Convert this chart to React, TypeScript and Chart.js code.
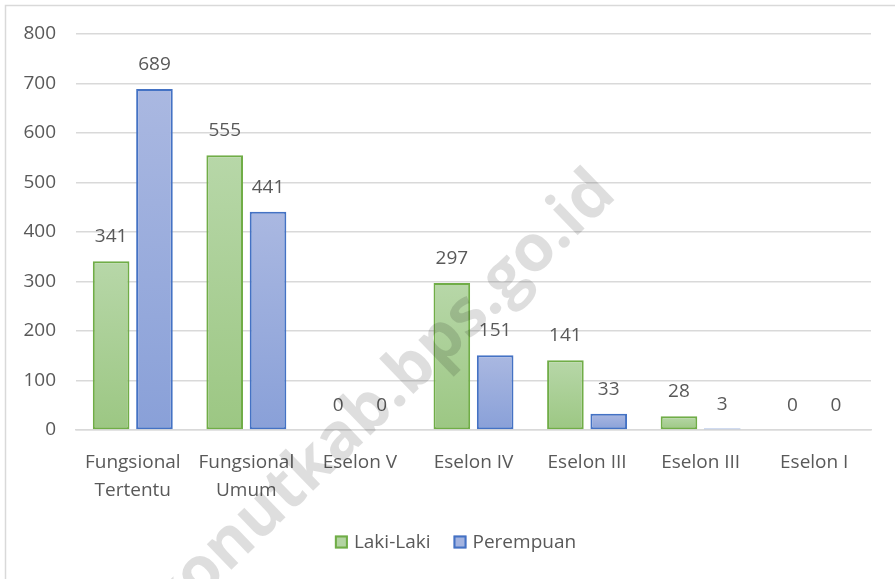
import React, { useEffect, useRef } from 'react';
import { Chart, registerables } from 'chart.js';

Chart.register(...registerables);

const categories: (string | string[])[] = [
  ['Fungsional', 'Tertentu'],
  ['Fungsional', 'Umum'],
  'Eselon V',
  'Eselon IV',
  'Eselon III',
  'Eselon III',
  'Eselon I',
];
const lakiLaki = [341, 555, 0, 297, 141, 28, 0];
const perempuan = [689, 441, 0, 151, 33, 3, 0];
const seriesNames = ['Laki-Laki', 'Perempuan'];
const legendFills = ['#b3d4a2', '#a3b3e0'];
const legendStrokes = ['#70ad47', '#4472c4'];
const yMax = 800;
const yStep = 100;
const watermark = 'konutkab.bps.go.id';

const FONT = '"Open Sans", "DejaVu Sans", sans-serif';
const TEXT = '#595959';

const gradientFill = (top: string, bottom: string) => (ctx: any) => {
  const chart = ctx.chart;
  const y = chart.scales && chart.scales.y;
  if (!y || ctx.type !== 'data') return top;
  const yTop = y.getPixelForValue(ctx.raw);
  const yBase = y.getPixelForValue(0);
  if (!isFinite(yTop) || !isFinite(yBase) || yBase - yTop < 1) return top;
  const g = chart.ctx.createLinearGradient(0, yTop, 0, yBase);
  g.addColorStop(0, top);
  g.addColorStop(1, bottom);
  return g;
};

const frameLegendWatermark = {
  id: 'frameLegendWatermark',
  beforeDraw(chart: any) {
    const c = chart.ctx;
    c.save();
    c.fillStyle = '#ffffff';
    c.fillRect(0, 0, chart.width, chart.height);
    c.strokeStyle = '#d9d9d9';
    c.lineWidth = 1.5;
    c.beginPath();
    c.moveTo(5.5, chart.height);
    c.lineTo(5.5, 5.5);
    c.lineTo(chart.width, 5.5);
    c.stroke();
    c.restore();
  },
  afterDraw(chart: any) {
    const c = chart.ctx;
    // legend
    c.save();
    c.font = `19px ${FONT}`;
    c.textBaseline = 'middle';
    c.textAlign = 'left';
    const box = 13;
    const gapText = 6;
    const gapItem = 23;
    const widths = seriesNames.map((s) => c.measureText(s).width);
    const total = widths.reduce((a, w) => a + box + gapText + w, 0) + gapItem * (seriesNames.length - 1);
    let x = 455.5 - total / 2;
    const cy = 542;
    seriesNames.forEach((s, i) => {
      c.fillStyle = legendFills[i];
      c.fillRect(x, cy - box / 2, box, box);
      c.strokeStyle = legendStrokes[i];
      c.lineWidth = 2;
      c.strokeRect(x + 1, cy - box / 2 + 1, box - 2, box - 2);
      c.fillStyle = TEXT;
      c.fillText(s, x + box + gapText, cy + 1);
      x += box + gapText + widths[i] + gapItem;
    });
    c.restore();
    // watermark
    c.save();
    c.font = `bold 65px ${FONT}`;
    c.fillStyle = 'rgba(0,0,0,0.13)';
    c.textBaseline = 'alphabetic';
    c.textAlign = 'left';
    c.translate(403, 404);
    c.rotate((-44 * Math.PI) / 180);
    const before = c.measureText('konutkab').width;
    const dot = c.measureText('.').width;
    c.fillText(watermark, -before - dot / 2, 0);
    c.restore();
  },
};

const dataLabels = {
  id: 'dataLabels',
  afterDatasetsDraw(chart: any) {
    const c = chart.ctx;
    c.save();
    c.font = `19px ${FONT}`;
    c.fillStyle = TEXT;
    c.textAlign = 'center';
    c.textBaseline = 'alphabetic';
    chart.data.datasets.forEach((ds: any, i: number) => {
      const meta = chart.getDatasetMeta(i);
      meta.data.forEach((bar: any, j: number) => {
        c.fillText(String(ds.data[j]), bar.x, bar.y - 19);
      });
    });
    c.restore();
  },
};

export default function App() {
  const ref = useRef<HTMLCanvasElement | null>(null);
  useEffect(() => {
    document.body.style.margin = '0';
    if (!ref.current) return;
    const chart = new Chart(ref.current, {
      type: 'bar',
      data: {
        labels: categories,
        datasets: [
          {
            label: seriesNames[0],
            data: lakiLaki,
            backgroundColor: gradientFill('#b7d7a8', '#9cc783'),
            borderColor: '#70ad47',
            borderWidth: 2,
            borderSkipped: false,
            categoryPercentage: 0.763,
            barPercentage: 0.845,
          },
          {
            label: seriesNames[1],
            data: perempuan,
            backgroundColor: gradientFill('#aab8e1', '#89a0d8'),
            borderColor: '#4472c4',
            borderWidth: 2,
            borderSkipped: false,
            categoryPercentage: 0.763,
            barPercentage: 0.845,
          },
        ],
      },
      options: {
        animation: false,
        responsive: false,
        maintainAspectRatio: false,
        layout: { padding: { top: 34, left: 0, right: 24, bottom: 58 } },
        plugins: {
          tooltip: { enabled: false },
          legend: { display: false },
        },
        scales: {
          x: {
            grid: { display: false, drawTicks: false },
            border: { display: true, color: '#d9d9d9', width: 1.5 },
            ticks: {
              color: TEXT,
              font: { family: FONT, size: 19, lineHeight: 1.45 },
              padding: 19,
              maxRotation: 0,
              autoSkip: false,
            },
            afterFit: (scale: any) => {
              scale.height = 91;
            },
          },
          y: {
            min: 0,
            max: yMax,
            grid: { color: '#d9d9d9', lineWidth: 1.5, drawTicks: false },
            border: { display: false },
            ticks: {
              stepSize: yStep,
              color: TEXT,
              font: { family: FONT, size: 19 },
              padding: 20,
            },
            afterFit: (scale: any) => {
              scale.width = 76;
            },
          },
        },
      },
      plugins: [frameLegendWatermark, dataLabels],
    });
    return () => chart.destroy();
  }, []);
  return (
    <div style={{ width: 895, height: 579 }}>
      <canvas ref={ref} width={895} height={579} style={{ display: 'block' }} />
    </div>
  );
}
